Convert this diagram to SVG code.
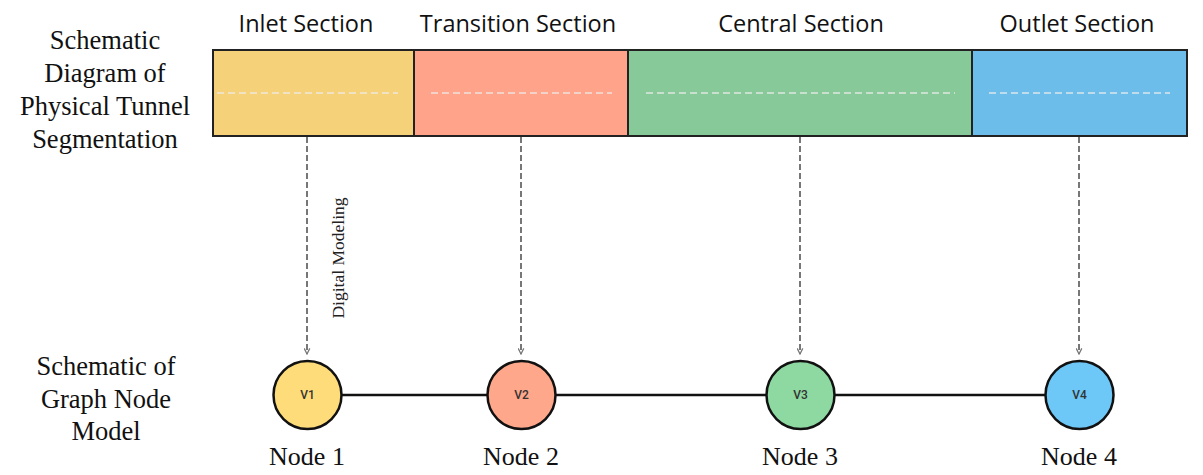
<svg xmlns="http://www.w3.org/2000/svg" width="1203" height="475" viewBox="0 0 1203 475">
<defs>
<marker id="arr" viewBox="0 0 10 10" refX="9" refY="5" markerWidth="7" markerHeight="7" orient="auto" markerUnits="userSpaceOnUse">
<path d="M1,1 L9,5 L1,9" fill="none" stroke="#777" stroke-width="1.8"/>
</marker>
<style>
.sec{font-family:"Open Sans","Liberation Sans",sans-serif;font-size:23.5px;fill:#111;text-anchor:middle}
.lbl{font-family:"Liberation Serif",serif;font-size:26.5px;fill:#111;text-anchor:middle}
.nl{font-family:"Liberation Serif",serif;font-size:26px;fill:#111;text-anchor:middle}
.seg{stroke:#222;stroke-width:2}
.mid{stroke:#eee;stroke-width:1.5;stroke-dasharray:7,4;opacity:0.85}
.down{stroke:#777;stroke-width:2;stroke-dasharray:6,3;fill:none}
.node{stroke:#111;stroke-width:2.5}
.vt{font-family:Roboto,"Liberation Sans",sans-serif;font-size:12px;font-weight:500;fill:#333;text-anchor:middle}
</style>
</defs>
<rect width="1203" height="475" fill="#fff"/>

<g id="left-labels">
<text class="lbl" x="105" y="49">Schematic</text>
<text class="lbl" x="105" y="82">Diagram of</text>
<text class="lbl" x="105" y="115">Physical Tunnel</text>
<text class="lbl" x="105" y="148">Segmentation</text>
<text class="lbl" x="106" y="375">Schematic of</text>
<text class="lbl" x="106" y="408">Graph Node</text>
<text class="lbl" x="106" y="440">Model</text>
</g>

<g id="inlet">
<rect class="seg" x="213" y="50" width="201" height="86" fill="#F5D27A"/>
<line class="mid" x1="217" y1="93" x2="398" y2="93"/>
<text class="sec" x="306" y="32">Inlet Section</text>
</g>
<g id="transition">
<rect class="seg" x="414" y="50" width="214" height="86" fill="#FFA38A"/>
<line class="mid" x1="431" y1="93" x2="612" y2="93"/>
<text class="sec" x="518" y="32">Transition Section</text>
</g>
<g id="central">
<rect class="seg" x="628" y="50" width="344" height="86" fill="#88C999"/>
<line class="mid" x1="646" y1="93" x2="955" y2="93"/>
<text class="sec" x="801" y="32">Central Section</text>
</g>
<g id="outlet">
<rect class="seg" x="972" y="50" width="215" height="86" fill="#6CBDE9"/>
<line class="mid" x1="989" y1="93" x2="1170" y2="93"/>
<text class="sec" x="1077" y="32">Outlet Section</text>
</g>

<g id="connectors">
<line class="down" x1="307" y1="137" x2="307" y2="354" marker-end="url(#arr)"/>
<line class="down" x1="521" y1="137" x2="521" y2="354" marker-end="url(#arr)"/>
<line class="down" x1="800" y1="137" x2="800" y2="354" marker-end="url(#arr)"/>
<line class="down" x1="1079" y1="137" x2="1079" y2="354" marker-end="url(#arr)"/>
<line x1="341" y1="395" x2="1045" y2="395" stroke="#111" stroke-width="2.5"/>
<text x="340" y="258" transform="rotate(-90 340 258)" font-family="Liberation Serif,serif" font-size="17.5" fill="#222" text-anchor="middle" dominant-baseline="middle">Digital Modeling</text>
</g>

<g id="v1">
<circle class="node" cx="307.5" cy="395" r="34" fill="#FFDC7A"/>
<text class="vt" x="307.5" y="399">V1</text>
<text class="nl" x="307" y="465">Node 1</text>
</g>
<g id="v2">
<circle class="node" cx="521.5" cy="395" r="34" fill="#FFA78A"/>
<text class="vt" x="521.5" y="399">V2</text>
<text class="nl" x="521" y="465">Node 2</text>
</g>
<g id="v3">
<circle class="node" cx="800.5" cy="395" r="34" fill="#8ED8A2"/>
<text class="vt" x="800.5" y="399">V3</text>
<text class="nl" x="800" y="465">Node 3</text>
</g>
<g id="v4">
<circle class="node" cx="1079.5" cy="395" r="34" fill="#6EC8F7"/>
<text class="vt" x="1079.5" y="399">V4</text>
<text class="nl" x="1079" y="465">Node 4</text>
</g>
</svg>
